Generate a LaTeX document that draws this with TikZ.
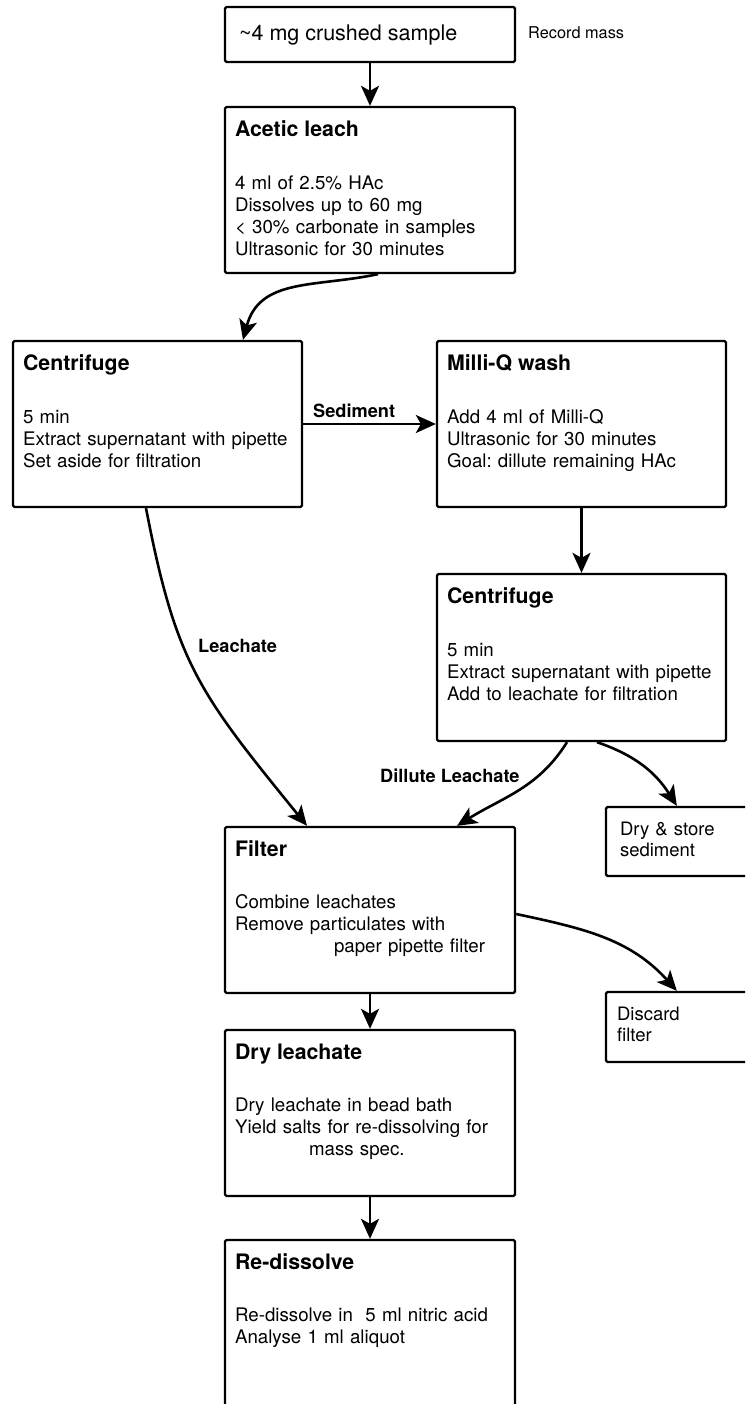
\documentclass[tikz,border=0pt]{standalone}
\usepackage{fontspec}
\setmainfont{TeX Gyre Heros}
\usetikzlibrary{arrows.meta}
\frenchspacing

\begin{document}
\begin{tikzpicture}[x=1pt,y=1pt,
  box/.style={draw, line width=2.3pt, rounded corners=1.5pt, inner sep=0pt,
              minimum width=290pt, minimum height=166pt},
  smallbox/.style={draw, line width=2.3pt, rounded corners=1.5pt, inner sep=0pt,
              minimum width=150pt, minimum height=69pt},
  ttl/.style={anchor=base west, inner sep=0pt, font=\fontsize{21.3}{25}\selectfont\bfseries},
  txt/.style={anchor=base west, inner sep=0pt, align=left, text width=285pt,
              font=\fontsize{18.7}{22}\selectfont},
  lbl/.style={anchor=base west, inner sep=0pt, font=\fontsize{18.2}{22}\selectfont\bfseries},
  arr/.style={-{Stealth[length=20pt,width=18pt,inset=5pt]}, line width=2.6pt},
]
\useasboundingbox (0,0) rectangle (745,-1404);
\clip (0,0) rectangle (745,-1404);

% process boxes
\node[box, minimum height=55pt] (sample) at (370,-34.5) {};
\node[box] (acetic)  at (370,-190) {};
\node[box, minimum width=289pt] (cent1) at (157.5,-424) {};
\node[box, minimum width=289pt] (milliq) at (581.5,-424) {};
\node[box, minimum width=289pt, minimum height=167pt] (cent2) at (581.5,-657.5) {};
\node[box] (filter)  at (370,-910) {};
\node[box] (dryl)    at (370,-1113) {};
\node[box] (redis)   at (370,-1323) {};
\node[smallbox] (store)   at (681,-841.5) {};
\node[smallbox, minimum height=70pt] (discard) at (681,-1027) {};

% box texts
\node[anchor=base west, inner sep=0pt, font=\fontsize{21.5}{25}\selectfont]
  (sampletext) at ([xshift=15pt,yshift=-35pt]sample.north west) {\textasciitilde4 mg crushed sample};
\node[anchor=base west, inner sep=0pt, font=\fontsize{16.3}{20}\selectfont]
  (record) at (528,-39) {Record mass};

\node[ttl] (acetic-t) at ([xshift=11pt,yshift=-30.5pt]acetic.north west) {Acetic leach};
\node[txt] (acetic-b) at ([xshift=11pt,yshift=-83.5pt]acetic.north west)
  {4 ml of 2.5\% HAc\\Dissolves up to 60 mg\\< 30\% carbonate in samples\\Ultrasonic for 30 minutes};

\node[ttl] (cent1-t) at ([xshift=11pt,yshift=-30.5pt]cent1.north west) {Centrifuge};
\node[txt] (cent1-b) at ([xshift=11pt,yshift=-83.5pt]cent1.north west)
  {5 min\\Extract supernatant with pipette\\Set aside for filtration};

\node[ttl] (milliq-t) at ([xshift=11pt,yshift=-30.5pt]milliq.north west) {Milli-Q wash};
\node[txt] (milliq-b) at ([xshift=11pt,yshift=-83.5pt]milliq.north west)
  {Add 4 ml of Milli-Q\\Ultrasonic for 30 minutes\\Goal: dillute remaining HAc};

\node[ttl] (cent2-t) at ([xshift=11pt,yshift=-30.5pt]cent2.north west) {Centrifuge};
\node[txt] (cent2-b) at ([xshift=11pt,yshift=-83.5pt]cent2.north west)
  {5 min\\Extract supernatant with pipette\\Add to leachate for filtration};

\node[ttl] (filter-t) at ([xshift=11pt,yshift=-30.5pt]filter.north west) {Filter};
\node[txt] (filter-b) at ([xshift=11pt,yshift=-82.5pt]filter.north west)
  {Combine leachates\\Remove particulates with\\\hspace*{99pt}paper pipette filter};

\node[ttl] (dryl-t) at ([xshift=11pt,yshift=-30.5pt]dryl.north west) {Dry leachate};
\node[txt] (dryl-b) at ([xshift=11pt,yshift=-82.5pt]dryl.north west)
  {Dry leachate in bead bath\\Yield salts for re-dissolving for\\\hspace*{74pt}mass spec.};

\node[ttl] (redis-t) at ([xshift=11pt,yshift=-30.5pt]redis.north west) {Re-dissolve};
\node[txt] (redis-b) at ([xshift=11pt,yshift=-83pt]redis.north west)
  {Re-dissolve in\ \ 5 ml nitric acid\\Analyse 1 ml aliquot};

\node[txt, font=\fontsize{18.5}{21}\selectfont, text width=130pt] (store-b)
  at ([xshift=15pt,yshift=-30pt]store.north west) {Dry \& store\\sediment};
\node[txt, font=\fontsize{18.5}{21}\selectfont, text width=130pt] (discard-b)
  at ([xshift=12pt,yshift=-30pt]discard.north west) {Discard\\filter};

% connectors
\draw[arr] (sample.south) -- (acetic.north);
\draw[arr] ([xshift=8pt]acetic.south) to[out=192,in=75,looseness=1.1] ([xshift=85.5pt]cent1.north);
\draw[arr] (cent1.east) -- (milliq.west);
\draw[arr] (milliq.south) -- (cent2.north);
\draw[arr] ([xshift=-11.5pt]cent1.south) .. controls +(30,-155) and +(-109,134) .. ([xshift=-63pt]filter.north);
\draw[arr] ([xshift=-14.5pt]cent2.south) to[out=-122,in=32] ([xshift=87pt]filter.north);
\draw[arr] ([xshift=15.5pt]cent2.south) to[out=-19,in=122.5] ([xshift=72pt]store.north west);
\draw[arr] ([yshift=-4pt]filter.east) to[out=-12,in=132] ([xshift=72pt]discard.north west);
\draw[arr] (filter.south) -- (dryl.north);
\draw[arr] (dryl.south) -- (redis.north);

% connector labels
\node[lbl] (sed-l) at (313,-417) {Sediment};
\node[lbl] (leach-l) at (198,-652) {Leachate};
\node[lbl] (dil-l) at (380,-782) {Dillute Leachate};
\end{tikzpicture}
\end{document}
